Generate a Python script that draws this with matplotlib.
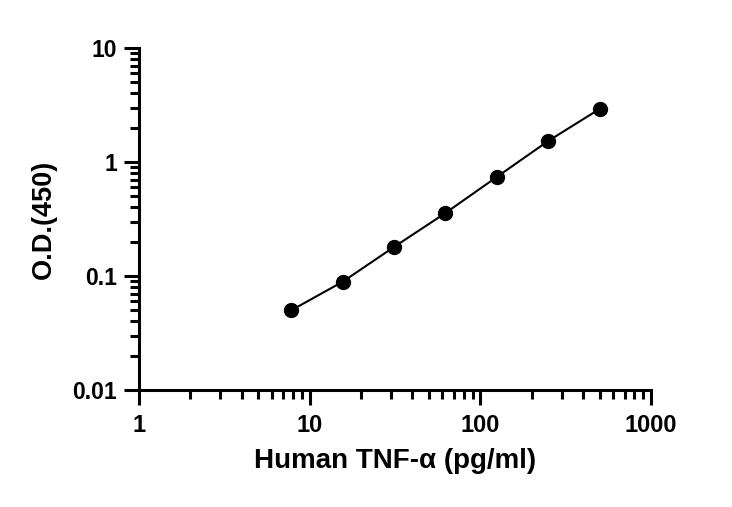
import matplotlib
matplotlib.use("Agg")
import matplotlib.pyplot as plt
from matplotlib.ticker import LogLocator, FixedLocator, FixedFormatter, NullFormatter

plt.rcParams['font.family'] = ['Liberation Sans', 'DejaVu Sans']
plt.rcParams['font.weight'] = 'bold'

conc = [7.8, 15.6, 31.25, 62.5, 125, 250, 500]
od = [0.050, 0.089, 0.18, 0.357, 0.74, 1.53, 2.92]
xticks = [1, 10, 100, 1000]
xticklabels = ['1', '10', '100', '1000']
yticks = [0.01, 0.1, 1, 10]
yticklabels = ['0.01', '0.1', '1', '10']

fig = plt.figure(figsize=(7.32, 5.07), dpi=100)
ax = fig.add_axes([139/732, 1-390/507, (651-139)/732, (390-48)/507])
ax.set_xscale('log')
ax.set_yscale('log')
ax.plot(conc, od, color='black', lw=1.5, marker='o', ms=10, mfc='black', mec='black')
ax.set_xlim(1, 1000)
ax.set_ylim(0.01, 10)

for s in ['top', 'right']:
    ax.spines[s].set_visible(False)
for s in ['left', 'bottom']:
    ax.spines[s].set_linewidth(2.2)

ax.xaxis.set_major_locator(FixedLocator(xticks))
ax.xaxis.set_major_formatter(FixedFormatter(xticklabels))
ax.yaxis.set_major_locator(FixedLocator(yticks))
ax.yaxis.set_major_formatter(FixedFormatter(yticklabels))
ax.xaxis.set_minor_locator(LogLocator(base=10, subs=range(2, 10)))
ax.yaxis.set_minor_locator(LogLocator(base=10, subs=range(2, 10)))
ax.xaxis.set_minor_formatter(NullFormatter())
ax.yaxis.set_minor_formatter(NullFormatter())

ax.tick_params(which='major', length=11, width=2.2, direction='out')
ax.tick_params(which='minor', length=6.5, width=2.2, direction='out')
ax.tick_params(axis='x', which='major', pad=6, labelsize=17)
ax.tick_params(axis='y', which='major', pad=5, labelsize=16.5)
for lab in ax.get_xticklabels() + ax.get_yticklabels():
    lab.set_fontweight('bold')

ax.set_xlabel('Human TNF-α (pg/ml)', fontsize=20, fontweight='bold', labelpad=8)
ax.set_ylabel('O.D.(450)', fontsize=19.5, fontweight='bold', labelpad=11)

fig.savefig('out.png', dpi=100)
